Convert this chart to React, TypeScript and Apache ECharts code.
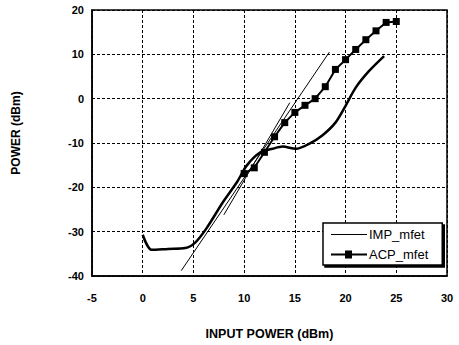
import React, { useEffect, useRef } from "react";
import * as echarts from "echarts";

const impX = [0, 0.9, 2.5, 4.2, 5.2, 6.3, 7.95, 9.3, 10.25, 11.6, 12.8, 13.8, 15.1, 16.4, 17.7, 19.0, 20.0, 21.0, 22.3, 23.8];
const impY = [-30.7, -34.1, -33.9, -33.7, -32.4, -29.2, -23.2, -18.8, -15.1, -12.1, -11.3, -10.8, -11.3, -10.2, -8.3, -5.4, -1.6, 2.5, 6.2, 9.6];

const acpX = [10, 11, 12, 13, 14, 15, 16, 17, 18, 19, 20, 21, 22, 23, 24, 25];
const acpY = [-16.9, -15.6, -12.1, -8.6, -5.4, -3.1, -1.5, 0.0, 2.7, 6.6, 8.8, 11.1, 13.3, 15.3, 17.2, 17.4];

const fitAX = [3.8, 18.4];
const fitAY = [-38.8, 10.5];
const fitBX = [8.0, 14.5];
const fitBY = [-26.2, -0.9];

const pairs = (xs: number[], ys: number[]) => xs.map((x, i) => [x, ys[i]]);

const FONT = "'Liberation Sans', Arial, sans-serif";

const IMP_ICON = "path://M0,0h0.01v0.01h-0.01z M0,4.4h36v1.2h-36z M0,9.99h0.01v0.01h-0.01z";
const ACP_ICON = "path://M0,0h0.01v0.01h-0.01z M0,4h14v-3h7v3h15v2h-15v3h-7v-3h-14z M0,9.99h0.01v0.01h-0.01z";

export default function App() {
  const ref = useRef<HTMLDivElement>(null);
  useEffect(() => {
    if (!ref.current) return;
    const chart = echarts.init(ref.current, undefined, { renderer: "svg" });
    chart.setOption({
      animation: false,
      backgroundColor: "#fff",
      grid: { left: 92, right: 12, top: 10, bottom: 67, show: true, borderColor: "#000", borderWidth: 1.5, backgroundColor: "transparent" },
      legend: {
        data: [
          { name: "IMP_mfet", icon: IMP_ICON },
          { name: "ACP_mfet", icon: ACP_ICON },
        ],
        orient: "vertical",
        left: 323,
        top: 223,
        itemWidth: 38,
        itemHeight: 10,
        itemGap: 7,
        padding: [5, 14, 4, 8],
        borderColor: "#000",
        borderWidth: 1.5,
        backgroundColor: "#fff",
        shadowColor: "#000",
        shadowOffsetX: 2,
        shadowOffsetY: 2,
        shadowBlur: 0,
        textStyle: { fontFamily: FONT, fontSize: 13, color: "#000", padding: [0, 0, 0, -4] },
      },
      xAxis: {
        type: "value",
        min: -5,
        max: 30,
        interval: 5,
        name: "INPUT POWER (dBm)",
        nameLocation: "middle",
        nameGap: 51,
        nameTextStyle: { fontFamily: FONT, fontSize: 12.5, fontWeight: "bold", color: "#000" },
        axisLine: { onZero: false, lineStyle: { color: "#000", width: 1.5 } },
        axisTick: { show: false },
        axisLabel: { fontFamily: FONT, fontSize: 11, fontWeight: "bold", color: "#000", margin: 16 },
        splitLine: { show: true, lineStyle: { color: "#000", type: [3, 2], width: 1 } },
      },
      yAxis: {
        type: "value",
        min: -40,
        max: 20,
        interval: 10,
        name: "POWER (dBm)",
        nameLocation: "middle",
        nameGap: 70,
        nameTextStyle: { fontFamily: FONT, fontSize: 12, fontWeight: "bold", color: "#000", padding: [0, 0, 0, 20] },
        axisLine: { show: true, onZero: false, lineStyle: { color: "#000", width: 1.5 } },
        axisTick: { show: false },
        axisLabel: { fontFamily: FONT, fontSize: 11, fontWeight: "bold", color: "#000", margin: 8 },
        splitLine: { show: true, lineStyle: { color: "#000", type: [3, 2], width: 1 } },
      },
      series: [
        {
          name: "IMP_mfet",
          type: "line",
          data: pairs(impX, impY),
          smooth: 0.3,
          showSymbol: false,
          symbol: "none",
          lineStyle: { color: "#000", width: 2.5 },
          itemStyle: { color: "#000" },
          z: 3,
        },
        {
          name: "ACP_mfet",
          type: "line",
          data: pairs(acpX, acpY),
          symbol: "rect",
          symbolSize: 7,
          lineStyle: { color: "#000", width: 2 },
          itemStyle: { color: "#000" },
          z: 4,
        },
        {
          name: "fitA",
          type: "line",
          data: pairs(fitAX, fitAY),
          symbol: "none",
          lineStyle: { color: "#000", width: 1 },
          z: 2,
        },
        {
          name: "fitB",
          type: "line",
          data: pairs(fitBX, fitBY),
          symbol: "none",
          lineStyle: { color: "#000", width: 1 },
          z: 2,
        },
      ],
    });
    return () => chart.dispose();
  }, []);
  return <div ref={ref} style={{ width: 459, height: 345, position: "absolute", left: 0, top: 0 }} />;
}
